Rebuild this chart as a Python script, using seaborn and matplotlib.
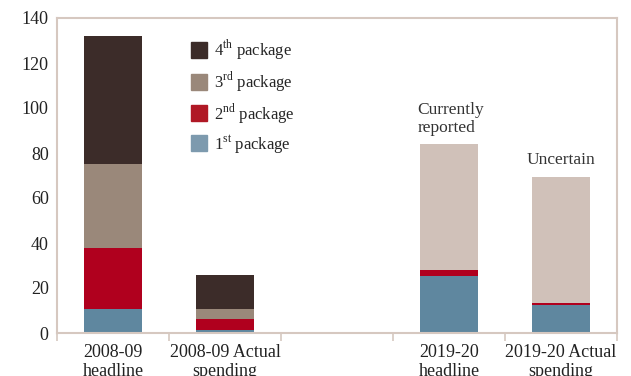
import numpy as np
import pandas as pd
import matplotlib
matplotlib.use("Agg")
import matplotlib.pyplot as plt
import seaborn as sns
from matplotlib.patches import Patch

sns.set_theme(style="white")
plt.rcParams["font.family"] = ["Liberation Serif", "DejaVu Serif"]
plt.rcParams["mathtext.fontset"] = "custom"
plt.rcParams["mathtext.rm"] = "Liberation Serif"

# Category slots (the blank one separates the two episodes)
categories = ["2008-09\nheadline", "2008-09 Actual\nspending", "",
              "2019-20\nheadline", "2019-20 Actual\nspending"]
bar_categories = ["2008-09\nheadline", "2008-09 Actual\nspending",
                  "2019-20\nheadline", "2019-20 Actual\nspending"]

# Stimulus amounts by package (bn)
first_pkg = [10.8, 1.2, 25.5, 12.4]
second_pkg = [27.0, 4.9, 2.4, 0.8]
third_pkg = [37.5, 4.7, 0.0, 0.0]
fourth_pkg = [56.7, 14.8, 0.0, 0.0]
reported_extra = [0.0, 0.0, 56.0, 56.0]

colors = {
    "reported": "#d0c1b9",
    "4th": "#3c2c29",
    "3rd": "#9a887a",
    "2nd": "#b0001e",
    "1st": "#5f879f",
}

df = pd.DataFrame({
    "category": bar_categories,
    "1st": first_pkg,
    "2nd": second_pkg,
    "3rd": third_pkg,
    "4th": fourth_pkg,
    "reported": reported_extra,
})
layers = ["1st", "2nd", "3rd", "4th", "reported"]
cum = df[layers].cumsum(axis=1)

fig = plt.figure(figsize=(6.31, 3.76), dpi=100)
ax = fig.add_axes([57 / 631, 1 - 333 / 376, 560 / 631, 315 / 376])

# Stack by overdrawing cumulative totals, tallest first
for layer in reversed(layers):
    sns.barplot(data=df.assign(total=cum[layer]), x="category", y="total",
                order=categories, color=colors[layer], width=0.51,
                saturation=1, errorbar=None, ax=ax, linewidth=0)

ax.set_xlim(-0.5, 4.5)
ax.set_ylim(0, 140)
ax.set_yticks(np.arange(0, 141, 20))
ax.set_xlabel("")
ax.set_ylabel("")

# Tick marks sit at the category boundaries, labels at the centres
ax.set_xticks(np.arange(-0.5, 4.6, 1))
ax.set_xticklabels([""] * 6)
ax.set_xticks(range(5), minor=True)
ax.set_xticklabels(categories, minor=True, fontsize=13, color="#222222",
                   linespacing=1.15)
ax.tick_params(axis="x", which="major", length=6, width=1.2,
               color="#d6c8c0", direction="out", bottom=True)
ax.tick_params(axis="x", which="minor", length=0, pad=8)
ax.tick_params(axis="y", length=0, pad=6, labelsize=13, labelcolor="#222222")

for side in ["left", "right", "top", "bottom"]:
    ax.spines[side].set_visible(True)
    ax.spines[side].set_color("#d6c8c0")
    ax.spines[side].set_linewidth(1.5)

ax.text(2.72, 87.5, "Currently\nreported", fontsize=12.5, color="#333333",
        ha="left", va="bottom", linespacing=1.15)
ax.text(4.0, 73.5, "Uncertain", fontsize=12.5, color="#333333",
        ha="center", va="bottom")

handles = [
    Patch(color="#3c2c29", label=r"4$^{\mathrm{th}}$ package"),
    Patch(color="#9a887a", label=r"3$^{\mathrm{rd}}$ package"),
    Patch(color="#b01825", label=r"2$^{\mathrm{nd}}$ package"),
    Patch(color="#7d9aae", label=r"1$^{\mathrm{st}}$ package"),
]
ax.legend(handles=handles, loc="upper left", bbox_to_anchor=(0.213, 0.985),
          frameon=False, fontsize=12, handlelength=0.95, handleheight=1.1,
          handletextpad=0.4, labelspacing=0.42)

fig.savefig("out.png", dpi=100)
